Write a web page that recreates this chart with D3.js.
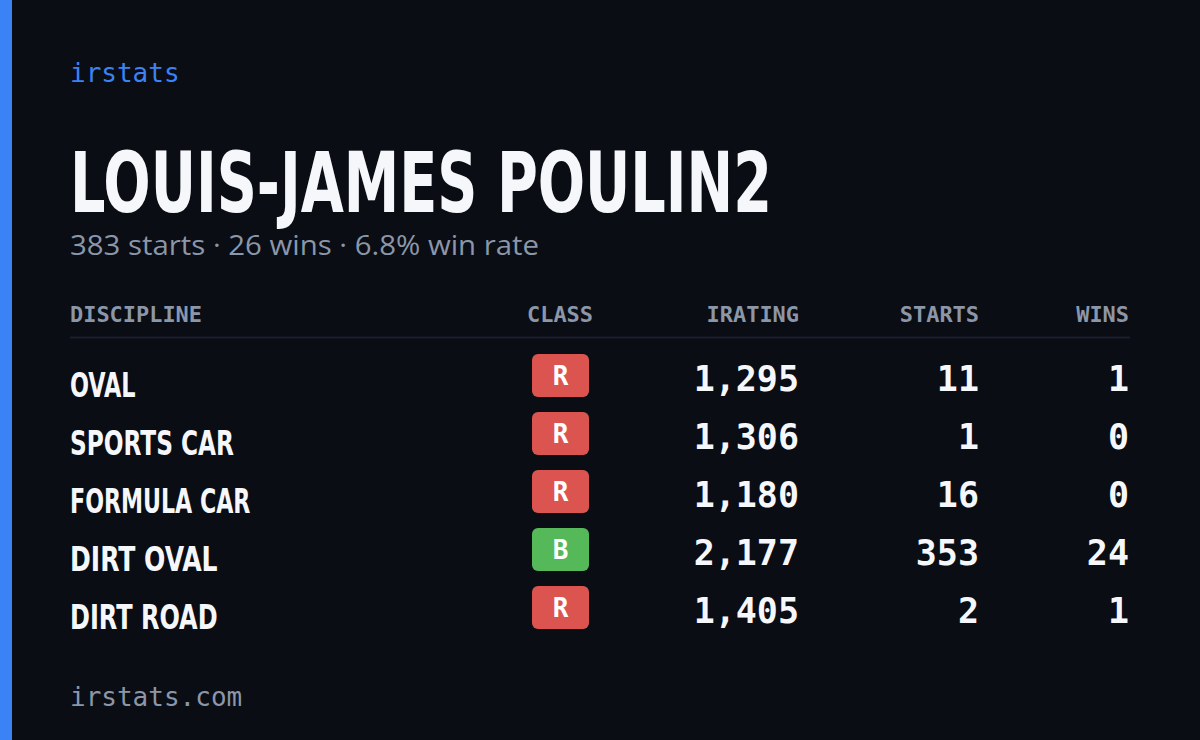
<!DOCTYPE html>
<html><head><meta charset="utf-8">
<script src="https://cdn.jsdelivr.net/npm/d3@7"></script>
<style>body{margin:0;background:#0a0d14}</style>
</head><body>
<div id="chart"></div>
<script>
const width = 1200, height = 740;

const disciplines = ["OVAL", "SPORTS CAR", "FORMULA CAR", "DIRT OVAL", "DIRT ROAD"];
const classes = ["R", "R", "R", "B", "R"];
const iratings = [1295, 1306, 1180, 2177, 1405];
const starts = [11, 1, 16, 353, 2];
const wins = [1, 0, 0, 24, 1];
const headers = ["DISCIPLINE", "CLASS", "IRATING", "STARTS", "WINS"];

const classColor = {R: "#dc544f", B: "#55b95a"};
const mono = "'DejaVu Sans Mono', monospace";
const cond = "'Liberation Sans Narrow', 'DejaVu Sans Condensed', sans-serif";
const muted = "#8b97a9";

const svg = d3.select("#chart").append("svg")
  .attr("width", width).attr("height", height);

svg.append("rect").attr("width", width).attr("height", height).attr("fill", "#0a0d14");
svg.append("rect").attr("width", 12).attr("height", height).attr("fill", "#3b82f6");

svg.append("text").attr("x", 70).attr("y", 82).text("irstats")
  .attr("font-family", mono).attr("font-size", 26).attr("fill", "#3b82f6");

svg.append("text").attr("x", 70).attr("y", 212).text("LOUIS-JAMES POULIN2")
  .attr("font-family", cond).attr("font-weight", "bold").attr("font-size", 84)
  .attr("textLength", 702).attr("lengthAdjust", "spacingAndGlyphs").attr("fill", "#f5f7fb");

const totalStarts = d3.sum(starts), totalWins = d3.sum(wins);
svg.append("text").attr("x", 70).attr("y", 255)
  .text(`${totalStarts} starts · ${totalWins} wins · ${(totalWins / totalStarts * 100).toFixed(1)}% win rate`)
  .attr("font-family", "'Open Sans', sans-serif").attr("font-size", 27).attr("fill", muted)
  .attr("textLength", 469).attr("lengthAdjust", "spacingAndGlyphs");

// column anchors
const colX = [70, 560, 799, 979, 1129];
const colAnchor = ["start", "middle", "end", "end", "end"];

svg.append("g").selectAll("text").data(headers).join("text")
  .attr("x", (d, i) => colX[i]).attr("y", 322).attr("text-anchor", (d, i) => colAnchor[i])
  .attr("font-family", mono).attr("font-weight", "bold").attr("font-size", 21).attr("fill", muted)
  .attr("textLength", d => d.length * 13.2).attr("lengthAdjust", "spacingAndGlyphs")
  .text(d => d);

svg.append("line").attr("x1", 70).attr("x2", 1130).attr("y1", 337.5).attr("y2", 337.5)
  .attr("stroke", "#1b1f2b").attr("stroke-width", 2);

const y = d3.scaleBand().domain(d3.range(disciplines.length)).range([347, 637]);
const fmt = d3.format(",");

const rows = svg.append("g").selectAll("g").data(disciplines).join("g")
  .attr("transform", (d, i) => `translate(0,${y(i)})`);

rows.append("text").attr("x", 70).attr("y", 50).text(d => d)
  .attr("font-family", cond).attr("font-weight", "bold").attr("font-size", 33)
  .attr("fill", "#f5f7fb")
  .attr("textLength", d => d.length * 16.4).attr("lengthAdjust", "spacingAndGlyphs");

rows.append("rect").attr("x", 532).attr("y", 7).attr("width", 57).attr("height", 43).attr("rx", 6)
  .attr("fill", (d, i) => classColor[classes[i]]);
rows.append("text").attr("x", 560.5).attr("y", 38).attr("text-anchor", "middle")
  .attr("font-family", mono).attr("font-weight", "bold").attr("font-size", 26).attr("fill", "#fff")
  .text((d, i) => classes[i]);

const vals = [iratings.map(fmt), starts, wins];
vals.forEach((arr, c) => {
  rows.append("text").attr("x", colX[c + 2]).attr("y", 44).attr("text-anchor", "end")
    .attr("font-family", mono).attr("font-weight", "bold").attr("font-size", 35).attr("fill", "#f5f7fb")
    .text((d, i) => arr[i]);
});

svg.append("text").attr("x", 70).attr("y", 706).text("irstats.com")
  .attr("font-family", mono).attr("font-size", 26).attr("fill", muted);
</script>
</body></html>
